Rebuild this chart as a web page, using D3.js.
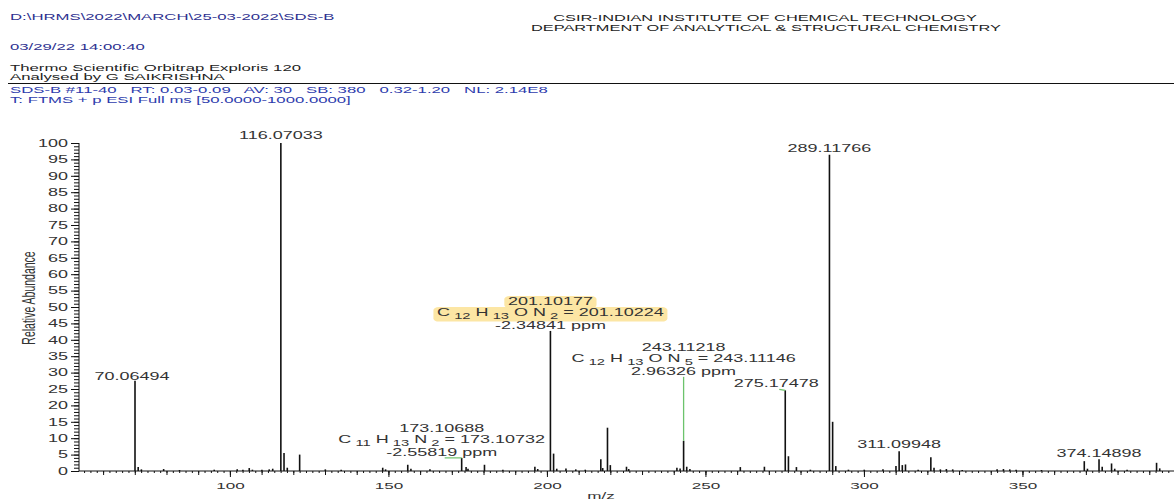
<!DOCTYPE html>
<html>
<head>
<meta charset="utf-8">
<script src="https://cdn.jsdelivr.net/npm/d3@7"></script>
<style>
body { margin: 0; background: #fff; }
svg { display: block; font-family: "Liberation Sans", Arial, sans-serif; }
text { white-space: pre; }
</style>
</head>
<body>
<div id="chart"></div>
<script>
var width = 1174;
var height = 500;
var SX = 1.8; // the reference text is stretched sideways

// header texts
var headerLeft = ["D:\\HRMS\\2022\\MARCH\\25-03-2022\\SDS-B", "03/29/22 14:00:40",
	"Thermo Scientific Orbitrap Exploris 120", "Analysed by G SAIKRISHNA",
	"SDS-B #11-40   RT: 0.03-0.09   AV: 30   SB: 380   0.32-1.20   NL: 2.14E8",
	"T: FTMS + p ESI Full ms [50.0000-1000.0000]"];
var headerCenter = ["CSIR-INDIAN INSTITUTE OF CHEMICAL TECHNOLOGY",
	"DEPARTMENT OF ANALYTICAL & STRUCTURAL CHEMISTRY"];

// spectrum sticks: m/z and relative abundance (%)
var mz = [70.06494, 71.07, 72.08, 79.1, 84.1, 95.05, 102.3, 104.1, 106.1, 107.1, 110.1, 112.4, 113.5,
	116.07033, 117.07, 118.1, 122.0, 130.1, 135.1, 148.2, 149.1, 156.1, 157.1, 163.1,
	173.10688, 174.5, 175.1, 180.3, 186.1, 196.2, 197.1, 201.10177, 202.1, 203.1, 206.0,
	209.1, 212.1, 217.0, 217.6, 219.1, 220.0, 225.1, 225.8, 241.0, 242.0, 243.11218,
	244.1, 245.1, 261.0, 268.6, 275.17478, 276.18, 278.7, 283.1, 289.11766, 290.12,
	291.12, 295.1, 300.1, 306.0, 310.1, 311.09948, 312.1, 313.1, 317.1, 321.1, 322.1,
	324.1, 326.0, 328.0, 331.0, 342.0, 344.0, 346.0, 348.0, 356.0, 369.5, 370.5,
	374.14898, 375.15, 378.1, 379.1, 383.0, 392.3, 393.3];
var abundance = [27.5, 1.2, 0.5, 0.6, 0.3, 0.4, 0.5, 0.4, 0.9, 0.4, 0.4, 0.5, 0.7,
	100, 5.5, 1.0, 5.0, 0.5, 0.4, 1.0, 0.5, 1.9, 0.7, 0.5,
	4.0, 1.2, 0.7, 1.9, 0.4, 1.3, 0.6, 42.7, 5.3, 0.7, 0.8,
	0.5, 0.4, 3.6, 0.9, 13.2, 1.8, 1.3, 0.6, 1.0, 0.8, 9.2,
	1.3, 0.6, 1.2, 1.3, 24.6, 4.5, 1.2, 0.4, 96.4, 15.0,
	1.5, 0.4, 0.4, 0.5, 1.5, 6.0, 1.8, 2.0, 0.4, 4.2, 1.0,
	0.5, 0.6, 0.5, 0.3, 0.5, 0.6, 0.5, 0.4, 0.3, 3.0, 0.7,
	3.6, 1.3, 2.3, 0.7, 0.4, 2.5, 0.8];

// annotated peaks
var labelMz = [70.06494, 116.07033, 173.10688, 201.10177, 243.11218, 275.17478, 289.11766, 311.09948, 374.14898];
var labelFormula = [null, null, "C11H13N2", "C12H13ON2", "C12H13ON5", null, null, null, null];
var labelTheo = [null, null, "173.10732", "201.10224", "243.11146", null, null, null, null];
var labelPpm = [null, null, "-2.55819", "-2.34841", "2.96326", null, null, null, null];

// label layout (pixels): horizontal shift, lift above the peak top, leader type
var labelDx = [-3, 0, -20, 0, 0, -9, 0, 0, 0];
var labelLift = [1, 4, 2, 2, 66, 3, 3, 3, 2];
var labelLead = [0, 0, 1, 0, 2, 1, 0, 0, 0];
var labelHighlight = [false, false, false, true, false, false, false, false, false];
var lineOffset = [-23.5, -12.5, 0]; // baselines of mz / formula / ppm lines

// ticks
var xTicks = [100, 150, 200, 250, 300, 350];
var yTicks = d3.range(0, 101, 5);

var svg = d3.select("#chart").append("svg")
	.attr("width", width)
	.attr("height", height);

var x = d3.scaleLinear().domain([52.4, 397.8]).range([79, 1174]);
var y = d3.scaleLinear().domain([0, 100]).range([471, 143]);

function stretchText(parent, px, py, str, size, color, anchor) {
	var g = parent.append("g")
		.attr("transform", "translate(" + px + "," + py + ") scale(" + SX + ",1)");
	g.append("text")
		.attr("text-anchor", anchor || "start")
		.attr("font-size", size)
		.attr("fill", color)
		.text(str);
	return g;
}

// header
var headerY = [20, 50, 71, 80, 93, 103];
var headerColor = ["#2e3190", "#2e3190", "#222", "#222", "#2e3cad", "#2e3cad"];
for (var i = 0; i < headerLeft.length; i++) {
	stretchText(svg, 10, headerY[i], headerLeft[i], 9.3, headerColor[i]);
}
stretchText(svg, 765, 21, headerCenter[0], 9.1, "#222", "middle");
stretchText(svg, 766, 31, headerCenter[1], 9.1, "#222", "middle");

svg.append("line")
	.attr("x1", 8).attr("x2", width)
	.attr("y1", 83.5).attr("y2", 83.5)
	.attr("stroke", "#111").attr("stroke-width", 1);

// axes
var gx = svg.append("g").attr("transform", "translate(0," + y(0) + ")");
gx.append("g").call(d3.axisBottom(x).tickValues(d3.range(54, 398, 2)).tickSize(2).tickFormat(""));
gx.append("g").call(d3.axisBottom(x).tickValues(d3.range(60, 398, 10)).tickSize(4).tickFormat(""));
var gxMajor = gx.append("g").call(d3.axisBottom(x).tickValues(xTicks).tickSize(6).tickPadding(5));
gx.selectAll(".domain").remove();
gx.selectAll("line").attr("stroke", "#111");
gxMajor.selectAll("text")
	.attr("font-family", "Liberation Sans, Arial, sans-serif")
	.attr("font-size", 9.5).attr("fill", "#333")
	.attr("transform", "scale(" + SX + ",1)");
gx.append("line").attr("x1", x.range()[0]).attr("x2", width).attr("stroke", "#111");

var gy = svg.append("g").attr("transform", "translate(" + x.range()[0] + ",0)");
gy.append("g").call(d3.axisLeft(y).tickValues(d3.range(0, 101, 1)).tickSize(5).tickFormat(""));
var gyMajor = gy.append("g").call(d3.axisLeft(y).tickValues(yTicks).tickSize(8).tickPadding(3));
gy.selectAll(".domain").remove();
gy.selectAll("line").attr("stroke", "#111");
gyMajor.selectAll("text")
	.attr("font-family", "Liberation Sans, Arial, sans-serif")
	.attr("font-size", 10).attr("fill", "#333")
	.attr("x", -11 / SX)
	.attr("transform", "scale(" + SX + ",1)");
gy.append("line").attr("y1", y(0)).attr("y2", y(100)).attr("stroke", "#111");

// axis titles
svg.append("g")
	.attr("transform", "translate(35,298) scale(" + SX + ",1) rotate(-90)")
	.append("text")
	.attr("text-anchor", "middle")
	.attr("font-size", 10.5).attr("fill", "#333")
	.text("Relative Abundance");
stretchText(svg, 601, 499, "m/z", 9.5, "#333", "middle");

// sticks
svg.append("g").selectAll("line")
	.data(mz)
	.join("line")
	.attr("x1", function(d) { return x(d); })
	.attr("x2", function(d) { return x(d); })
	.attr("y1", y(0))
	.attr("y2", function(d, i) { return y(abundance[i]); })
	.attr("stroke", "#111")
	.attr("stroke-width", 1.6);

// annotations
var gLab = svg.append("g");
function formulaLine(t, formula, theo, size) {
	var parts = formula.match(/[A-Z][a-z]?\d*/g);
	var shift = 0;
	function piece(str, s, fs) {
		var ts = t.append("tspan").attr("dy", s - shift).text(str);
		if (fs) ts.attr("font-size", fs);
		shift = s;
	}
	parts.forEach(function(p, k) {
		var el = p.match(/[A-Z][a-z]?/)[0];
		var n = p.slice(el.length);
		piece((k ? " " : "") + el, 0);
		if (n) piece(" " + n, 2.5, size * 0.82);
	});
	piece(" = " + theo, 0);
}

function drawLabel(j) {
	var px = x(labelMz[j]);
	var peakTop = y(abundance[mz.indexOf(labelMz[j])]);
	var lines = [labelMz[j].toFixed(5)];
	if (labelFormula[j]) lines.push("F", labelPpm[j] + " ppm");
	var base = peakTop - labelLift[j];
	var cx = px + labelDx[j];
	lines.forEach(function(line, k) {
		var by = base + lineOffset[3 - lines.length + k];
		var g = gLab.append("g")
			.attr("transform", "translate(" + cx + "," + by + ") scale(" + SX + ",1)");
		var t = g.append("text")
			.attr("text-anchor", "middle")
			.attr("font-size", 10)
			.attr("fill", "#333");
		if (line === "F") formulaLine(t, labelFormula[j], labelTheo[j], 10);
		else t.text(line);
		if (labelHighlight[j] && k < 2) {
			var bb = t.node().getBBox();
			g.insert("rect", "text")
				.attr("x", bb.x - 2).attr("y", bb.y - 0.5)
				.attr("width", bb.width + 4).attr("height", bb.height + 1)
				.attr("rx", 3)
				.attr("fill", "#fce6a4");
		}
	});
	if (labelLead[j] === 2) {
		gLab.append("line")
			.attr("x1", px).attr("x2", px)
			.attr("y1", base + 2).attr("y2", peakTop)
			.attr("stroke", "#6cc36c").attr("stroke-width", 1.3);
	} else if (labelLead[j] === 1) {
		gLab.append("line")
			.attr("x1", cx + 3).attr("x2", px)
			.attr("y1", base + 2).attr("y2", peakTop)
			.attr("stroke", "#6cc36c").attr("stroke-width", 1.2);
	}
}
for (var j = 0; j < labelMz.length; j++) drawLabel(j);
</script>
</body>
</html>
